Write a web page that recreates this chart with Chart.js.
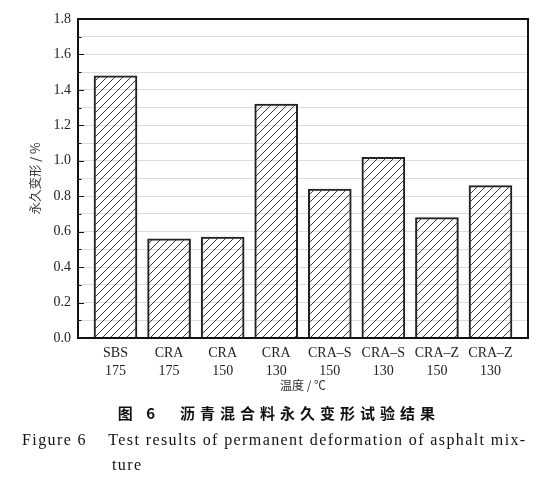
<!DOCTYPE html>
<html>
<head>
<meta charset="utf-8">
<script src="https://cdn.jsdelivr.net/npm/chart.js@4.4.1/dist/chart.umd.min.js"></script>
<style>
  body { margin: 0; background: #fff; }
  #wrap { position: relative; width: 558px; height: 483px; }
  canvas { position: absolute; left: 0; top: 0; }
  .cap { position: absolute; white-space: pre; color: #111; }
  #cap1 { left: 0; width: 558px; top: 402px; text-align: center; font: bold 15px "Noto Sans CJK SC"; letter-spacing: 5px; }
  #cap2 { left: 22px; top: 431px; font: 16px "Liberation Serif"; letter-spacing: 1.4px; }
  #cap3 { left: 112px; top: 456px; font: 16px "Liberation Serif"; letter-spacing: 1.4px; }
</style>
</head>
<body>
<div id="wrap">
  <canvas id="chart" width="558" height="483"></canvas>
  <div class="cap" id="cap1">图 6　沥青混合料永久变形试验结果</div>
  <div class="cap" id="cap2">Figure 6    Test results of permanent deformation of asphalt mix-</div>
  <div class="cap" id="cap3">ture</div>
</div>
<script>
// data
const categories = [['SBS', '175'], ['CRA', '175'], ['CRA', '150'], ['CRA', '130'],
                    ['CRA–S', '150'], ['CRA–S', '130'], ['CRA–Z', '150'], ['CRA–Z', '130']];
const deformation = [1.48, 0.56, 0.57, 1.32, 0.84, 1.02, 0.68, 0.86];
const yMax = 1.8;
const yStep = 0.1;

function hatch() {
    const s = 8;
    const c = document.createElement('canvas');
    c.width = s; c.height = s;
    const g = c.getContext('2d');
    g.strokeStyle = '#3a3a3a';
    g.lineWidth = 1;
    g.beginPath();
    g.moveTo(0, s); g.lineTo(s, 0);
    g.moveTo(-1, 1); g.lineTo(1, -1);
    g.moveTo(s - 1, s + 1); g.lineTo(s + 1, s - 1);
    g.stroke();
    return g.createPattern(c, 'repeat');
}

// frame and inward ticks on the left axis
const framePlugin = {
    id: 'frame',
    afterDraw(chart) {
        const { ctx, chartArea: a, scales } = chart;
        ctx.save();
        ctx.strokeStyle = '#111';
        ctx.lineWidth = 1;
        const y = scales.y;
        for (let v = 0; v <= yMax + 1e-9; v += yStep) {
            const py = Math.round(y.getPixelForValue(v)) + 0.5;
            const major = Math.round(v * 10) % 2 === 0;
            ctx.beginPath();
            ctx.moveTo(a.left, py);
            ctx.lineTo(a.left + (major ? 6 : 3.5), py);
            ctx.stroke();
        }
        ctx.lineWidth = 2;
        ctx.strokeRect(a.left, a.top, a.right - a.left, a.bottom - a.top);
        ctx.restore();
    }
};

new Chart(document.getElementById('chart'), {
    type: 'bar',
    data: {
        datasets: [{
            data: deformation.map((v, i) => ({ x: i, y: v })),
            backgroundColor: hatch(),
            borderColor: '#222',
            borderWidth: 1.4,
            barThickness: 43
        }]
    },
    options: {
        responsive: false,
        animation: false,
        layout: { padding: { top: 19, right: 30, bottom: 88, left: 0 } },
        plugins: { legend: { display: false }, tooltip: { enabled: false } },
        scales: {
            x: {
                type: 'linear',
                offset: false,
                min: -0.7,
                max: 7.7,
                afterBuildTicks: s => { s.ticks = categories.map((c, i) => ({ value: i })); },
                afterFit: s => { s.height = 57; },
                grid: { display: false, drawTicks: false },
                border: { display: false },
                ticks: {
                    callback: v => categories[v],
                    color: '#222',
                    padding: 7,
                    maxRotation: 0,
                    autoSkip: false,
                    font: { family: 'Liberation Serif', size: 14, lineHeight: 1.25 }
                },
                title: {
                    display: true,
                    text: '温度 / ℃',
                    color: '#333',
                    padding: { top: 0, bottom: 2 },
                    font: { family: 'Noto Sans CJK SC', size: 12 }
                }
            },
            y: {
                min: 0,
                max: yMax,
                afterFit: s => { s.width = 78; },
                grid: { color: '#dcdcdc', lineWidth: 1, drawTicks: false },
                border: { display: false },
                ticks: {
                    stepSize: yStep,
                    autoSkip: false,
                    padding: 7,
                    color: '#222',
                    callback: v => Math.round(v * 10) % 2 === 0 ? v.toFixed(1) : '',
                    font: { family: 'Liberation Serif', size: 14 }
                },
                title: {
                    display: true,
                    text: '永久变形 / %',
                    color: '#333',
                    padding: { top: 28, bottom: 0 },
                    font: { family: 'Noto Sans CJK SC', size: 12.5 }
                }
            }
        }
    },
    plugins: [framePlugin]
});
</script>
</body>
</html>
